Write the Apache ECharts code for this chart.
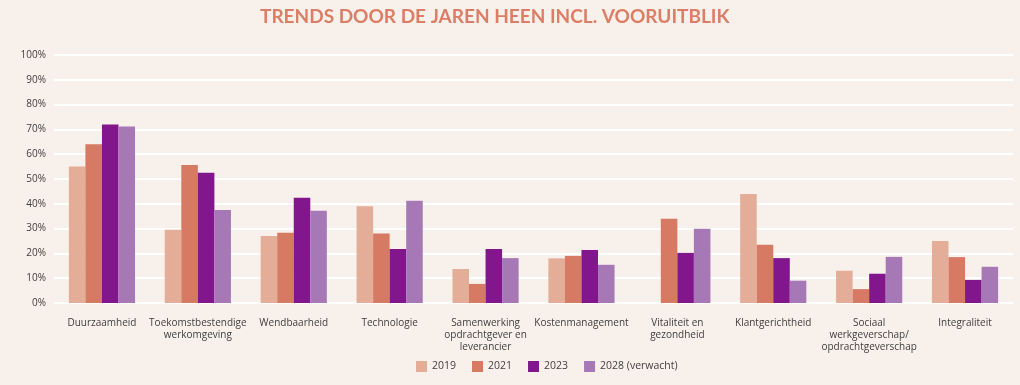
<!DOCTYPE html>
<html><head><meta charset="utf-8">
<script src="https://cdn.jsdelivr.net/npm/echarts@6/dist/echarts.min.js"></script>
<style>html,body{margin:0;padding:0;background:#F8F0EA;}#c{width:1020px;height:385px;}</style>
</head><body><div id="c"></div>
<script>
const categories = ['Duurzaamheid','Toekomstbestendige\nwerkomgeving','Wendbaarheid','Technologie','Samenwerking\nopdrachtgever en\nleverancier','Kostenmanagement','Vitaliteit en\ngezondheid','Klantgerichtheid','Sociaal\nwerkgeverschap/\nopdrachtgeverschap','Integraliteit'];
const seriesNames = ['2019','2021','2023','2028 (verwacht)'];
const v2019 = [55, 29.5, 27, 39, 13.7, 18, 0, 44, 13, 25];
const v2021 = [64, 55.6, 28.3, 28, 7.7, 19, 34, 23.5, 5.6, 18.5];
const v2023 = [72, 52.5, 42.4, 21.8, 21.8, 21.4, 20.2, 18.1, 11.8, 9.3];
const v2028 = [71.2, 37.5, 37.2, 41.2, 18.1, 15.4, 29.9, 9, 18.6, 14.6];
const colors = ['#E4AD98','#D67A64','#82168C','#A678B5'];
const values = [v2019, v2021, v2023, v2028];
const chart = echarts.init(document.getElementById('c'));
chart.setOption({
  backgroundColor: '#F8F0EA',
  animation: false,
  title: { text: 'TRENDS DOOR DE JAREN HEEN INCL. VOORUITBLIK', left: 255, top: 2,
    textStyle: { fontFamily: 'Lato', fontWeight: 'bold', fontSize: 19, color: '#DC7E66' } },
  legend: { bottom: 8, left: 411, itemWidth: 11, itemHeight: 11, itemGap: 16, icon: 'rect',
    textStyle: { fontFamily: 'Open Sans', fontSize: 10.5, color: '#404040' } },
  grid: { left: 54, right: 7, top: 55, bottom: 82, containLabel: false },
  xAxis: { type: 'category', data: categories,
    axisLine: { show: false }, axisTick: { show: false },
    axisLabel: { interval: 0, fontFamily: 'Open Sans', fontSize: 10, color: '#404040', lineHeight: 12, margin: 14 } },
  yAxis: { type: 'value', min: 0, max: 1, interval: 0.1,
    axisLabel: { formatter: v => Math.round(v*100) + '%', fontFamily: 'Open Sans', fontSize: 10, color: '#404040', margin: 8 },
    splitLine: { lineStyle: { color: '#FFFFFF', width: 2 } } },
  series: values.map((arr, i) => ({
    name: seriesNames[i], type: 'bar', data: arr.map(v => v/100),
    itemStyle: { color: colors[i] }, barGap: '0%', barCategoryGap: '31%'
  }))
});
</script></body></html>
